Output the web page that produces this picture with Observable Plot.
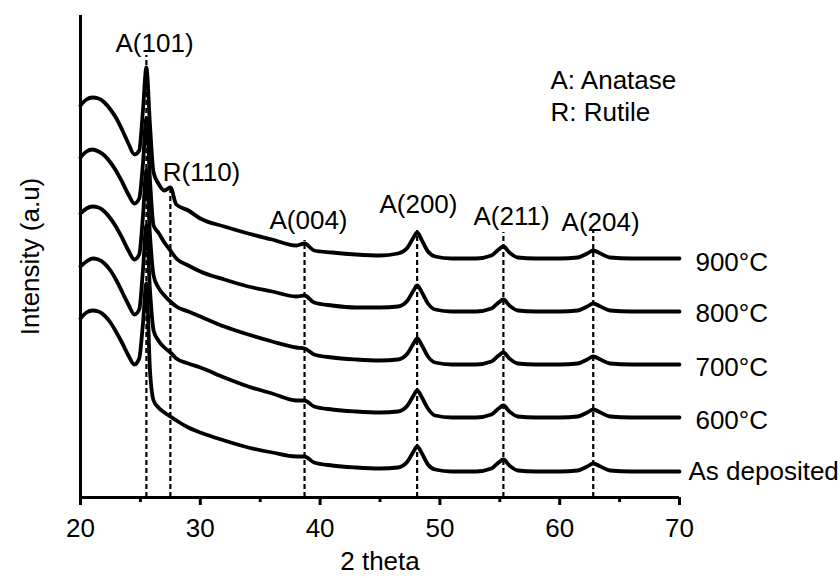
<!DOCTYPE html>
<html><head><meta charset="utf-8">
<script src="https://cdn.jsdelivr.net/npm/d3@7"></script>
<script src="https://cdn.jsdelivr.net/npm/@observablehq/plot@0.6"></script>
<style>body{margin:0;background:#fff}</style>
</head><body><div id="chart"></div>
<script>
// 2-theta sample positions (degrees)
const theta = [20,20.5,21,21.5,22,22.5,23,23.5,24,24.5,24.9,25.2,25.5,25.8,26.1,26.5,27,27.5,28,29,30,32,34,36,38,38.7,39.5,41,43,45,46.5,47.3,47.8,48.1,48.5,49,49.6,51,53,54.3,54.9,55.3,55.8,56.5,58,60,61.5,62.3,62.8,63.4,64.2,66,68,70];

// Intensity (a.u., stacked)
const i900 = [392,398,400,399,395,388,379,367,354,343,347,385,430,372,325,314,307,310,293,287,279,271,264,258,252,254,247,245,243,242,244,250,260,265,257,246,241,239,239,242,248,251,245,240,239,239,240,244,247,244,240,239,239,239];
const i800 = [340,346,348,346,342,335,326,315,303,294,299,332,379,317,272,265,255,247,239,232,226,218,211,206,201,202,195,192,190,190,191,197,207,212,205,194,188,186,186,189,195,198,192,187,186,186,187,191,194,191,187,186,186,186];
const i700 = [284,289,291,290,286,279,270,259,247,238,243,279,327,262,222,210,202,196,191,186,181,171,163,156,150,149,143,140,138,137,138,144,154,159,152,141,135,133,133,136,142,145,139,134,133,133,134,138,141,138,134,133,133,133];
const i600 = [231,236,239,238,234,227,217,205,193,183,188,225,272,207,167,157,150,145,139,134,130,120,111,104,97,97,91,88,86,85,86,92,102,107,100,89,82,80,80,83,89,92,86,81,80,80,81,85,88,85,81,80,80,80];
const iAsDep = [179,185,187,186,182,175,165,154,142,133,139,172,214,127,97,90,85,81,77,70,65,57,50,45,41,41,35,32,30,29,30,36,46,51,44,33,28,26,26,29,35,38,32,27,26,26,27,31,34,31,27,26,26,26];

const seriesNames = ["900°C","800°C","700°C","600°C","As deposited"];
const seriesValues = [i900, i800, i700, i600, iAsDep];

// Reflections
const peakTheta = [25.5, 27.5, 38.7, 48.1, 55.3, 62.8];
const peakNames = ["A(101)","R(110)","A(004)","A(200)","A(211)","A(204)"];
const peakLineTop = [442, 307, 257, 267, 265, 267];
const peakLabelTheta = [26.18, 30.1, 39.03, 48.21, 55.98, 63.41];
const peakLabelI = [454, 325, 277, 293, 281, 275];

// Series label anchors
const seriesLabelTheta = [71.33, 71.33, 71.33, 71.33, 70.75];
const seriesLabelI = [235, 184, 130, 77, 26];

// Legend (phase key)
const keyTexts = ["A: Anatase", "R: Rutile"];
const keyTheta = [59.23, 59.23];
const keyI = [417, 385];

const xTicks = [20,30,40,50,60,70];
const xMinorTicks = [25,35,45,55,65];

const rows = seriesNames.flatMap((s, j) => theta.map((t, k) => ({series: s, theta: t, I: seriesValues[j][k]})));
const peaks = peakTheta.map((t, k) => ({theta: t, top: peakLineTop[k], name: peakNames[k], lx: peakLabelTheta[k], ly: peakLabelI[k]}));
const sLabels = seriesNames.map((s, j) => ({name: s, x: seriesLabelTheta[j], y: seriesLabelI[j]}));
const keys = keyTexts.map((s, j) => ({name: s, x: keyTheta[j], y: keyI[j]}));

const font = "Liberation Sans, Arial, Helvetica, sans-serif";
const fs = 26;

const chart = Plot.plot({
  width: 840, height: 578,
  marginLeft: 80, marginRight: 161, marginTop: 15, marginBottom: 81,
  x: {domain: [20, 70]},
  y: {domain: [0, 482], axis: null},
  style: {fontFamily: font, fontSize: fs + "px", color: "black", background: "white", overflow: "visible"},
  marks: [
    Plot.ruleX(peaks, {x: "theta", y1: 0, y2: "top", stroke: "black", strokeWidth: 2.2, strokeDasharray: "5,3"}),
    Plot.line(rows, {x: "theta", y: "I", z: "series", stroke: "black", strokeWidth: 3.8, curve: "monotone-x", strokeLinejoin: "round"}),
    Plot.axisX({ticks: xTicks, tickSize: 8, tickPadding: 13, fontSize: fs, strokeWidth: 3, label: null}),
    Plot.axisX({ticks: xMinorTicks, tickSize: 5, tickFormat: () => "", strokeWidth: 3, label: null}),
    Plot.ruleY([0], {stroke: "black", strokeWidth: 3}),
    Plot.ruleX([20], {y1: 0, y2: 482, stroke: "black", strokeWidth: 3}),
    Plot.text(peaks, {x: "lx", y: "ly", text: "name", fontSize: fs, textAnchor: "middle", lineAnchor: "middle", fill: "black"}),
    Plot.text(sLabels, {x: "x", y: "y", text: "name", fontSize: fs, textAnchor: "start", lineAnchor: "middle", fill: "black"}),
    Plot.text(keys, {x: "x", y: "y", text: "name", fontSize: fs, textAnchor: "start", lineAnchor: "middle", fill: "black"}),
    Plot.text(["2 theta"], {frameAnchor: "bottom", dy: 64, text: d => d, fontSize: fs, lineAnchor: "middle", fill: "black"}),
    Plot.text(["Intensity (a.u)"], {frameAnchor: "left", dx: -50, rotate: -90, text: d => d, fontSize: fs, textAnchor: "middle", lineAnchor: "middle", fill: "black"})
  ]
});
document.getElementById("chart").appendChild(chart);
</script>
</body></html>
